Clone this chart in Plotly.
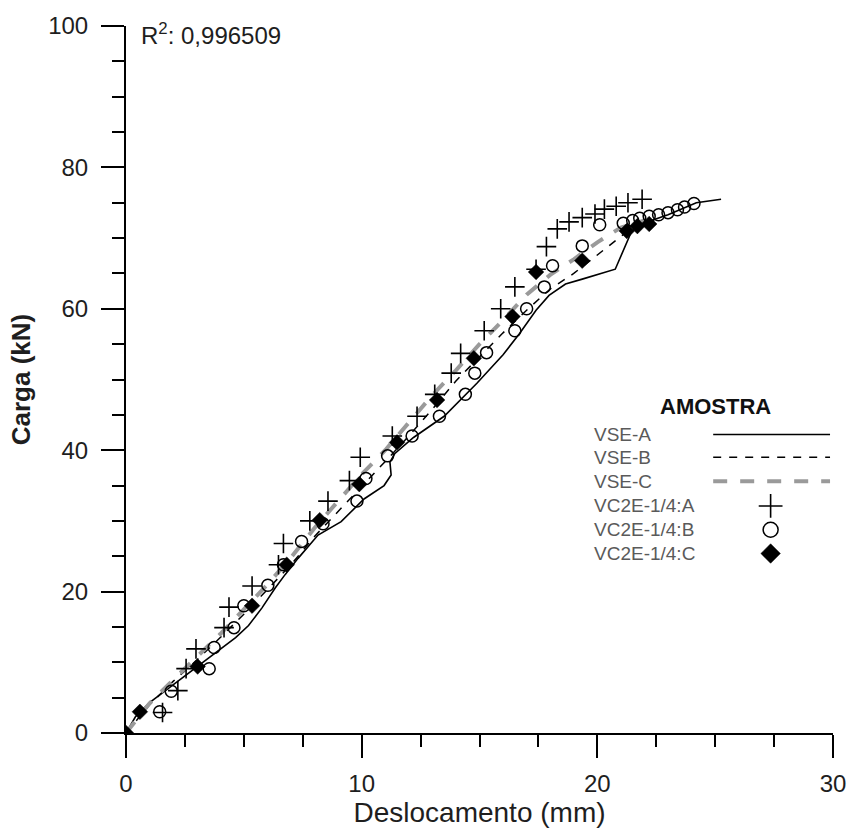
import plotly.graph_objects as go

# ---------------- data ----------------
vse_a_x = [0, 0.4, 1.0, 2.0, 3.0, 4.0, 4.65, 5.2, 5.77, 6.33, 6.75, 7.3, 8.15, 9.13, 10.1, 10.95,
           11.25, 11.2, 11.4, 12.2, 13.5, 14.9, 16.0, 16.7, 17.4, 17.95, 18.65, 19.36, 20.76,
           21.46, 22.2, 23.0, 24.2, 25.25]
vse_a_y = [0, 2.3, 4.3, 6.8, 9.3, 11.8, 13.5, 15.2, 17.7, 20.5, 22.4, 24.7, 28.0, 29.9, 33.1, 35.0,
           36.5, 38.3, 39.5, 41.8, 44.8, 49.5, 53.5, 56.5, 59.8, 61.9, 63.5, 64.2, 65.6,
           71.0, 72.4, 73.3, 75.0, 75.5]

vse_b_x = [0, 1, 2, 3, 4, 5, 6, 7, 8, 9, 10, 11, 12, 13, 14, 15, 16, 17, 18, 19, 20, 21, 21.6, 22.0]
vse_b_y = [0, 4.0, 7.3, 10.3, 13.5, 16.8, 20.3, 23.8, 27.8, 31.3, 34.8, 38.4, 42.0, 45.8, 49.8,
           53.2, 56.6, 59.8, 62.8, 65.0, 67.6, 70.3, 71.8, 72.3]

vse_c_x = [0, 1, 2, 3, 4, 5, 6, 7, 8, 9, 10, 11, 12, 13, 14, 15, 16, 17, 18, 19, 20, 21, 22]
vse_c_y = [0, 4.2, 7.5, 10.7, 14.0, 17.5, 21.0, 24.8, 29.0, 32.8, 36.6, 40.0, 44.0, 47.8, 51.3,
           55.0, 58.4, 62.0, 64.8, 67.0, 69.4, 71.5, 72.5]

vc_a_x = [1.55, 2.2, 2.55, 2.97, 4.16, 4.37, 5.35, 6.47, 6.68, 7.8, 8.57, 9.48, 9.94, 11.3, 12.35,
          13.1, 13.8, 14.2, 15.2, 15.9, 16.5, 17.4, 17.84, 18.3, 18.8, 19.36, 19.9, 20.3, 20.8,
          21.3, 21.9]
vc_a_y = [2.9, 6.0, 9.1, 11.9, 14.9, 17.8, 20.8, 23.8, 26.8, 30.0, 32.8, 35.7, 39.0, 42.0, 44.8,
          47.9, 50.9, 53.7, 56.9, 60.0, 63.1, 65.6, 68.8, 71.3, 72.3, 72.9, 73.4, 74.1, 74.5,
          75.0, 75.5]

vc_b_x = [1.43, 1.92, 3.53, 3.74, 4.58, 5.0, 6.02, 6.68, 7.45, 8.36, 9.8, 10.18, 11.1, 12.14,
          13.3, 14.4, 14.8, 15.3, 16.5, 17.0, 17.75, 18.1, 19.36, 20.1, 21.1, 21.5, 21.8, 22.2,
          22.6, 23.0, 23.4, 23.7, 24.1]
vc_b_y = [3.0, 5.9, 9.1, 12.1, 14.9, 18.0, 20.9, 23.8, 27.1, 29.6, 32.8, 36.0, 39.2, 42.0,
          44.8, 47.9, 50.9, 53.8, 56.9, 60.0, 63.1, 66.1, 68.9, 71.9, 72.1, 72.5, 72.8, 73.1,
          73.3, 73.6, 74.0, 74.4, 74.9]

vc_c_x = [0, 0.59, 3.04, 5.35, 6.82, 8.22, 9.9, 11.5, 13.2, 14.76, 16.4, 17.4, 19.36, 21.25, 21.7, 22.2]
vc_c_y = [0, 3.0, 9.4, 18.0, 23.8, 30.1, 35.2, 41.1, 47.1, 53.0, 58.9, 65.2, 66.8, 71.0, 71.7, 72.0]

legend_names = ["VSE-A", "VSE-B", "VSE-C", "VC2E-1/4:A", "VC2E-1/4:B", "VC2E-1/4:C"]
legend_title = "AMOSTRA"
r2_text = "R<sup>2</sup>: 0,996509"
x_title = "Deslocamento (mm)"
y_title = "Carga (kN)"

# ---------------- styles ----------------
FONT = "Liberation Sans, Arial, sans-serif"
GRAY = "#9a9a9a"
TXT = "#1e1e1e"
line_styles = [
    dict(color="black", width=1.6, dash="solid"),
    dict(color="black", width=1.5, dash="8px,8px"),
    dict(color=GRAY, width=4, dash="14px,13px"),
]
marker_styles = [
    dict(symbol="cross-thin", size=14, color="black", line=dict(color="black", width=1.6)),
    dict(symbol="circle-open", size=12, color="black", line=dict(color="black", width=1.5)),
    dict(symbol="diamond", size=12, color="black", line=dict(color="black", width=0.5)),
]

fig = go.Figure()
for (xs, ys), st in zip([(vse_a_x, vse_a_y), (vse_b_x, vse_b_y), (vse_c_x, vse_c_y)], line_styles):
    fig.add_trace(go.Scatter(x=xs, y=ys, mode="lines", line=st, showlegend=False,
                             hoverinfo="skip"))
for (xs, ys), st in zip([(vc_a_x, vc_a_y), (vc_b_x, vc_b_y), (vc_c_x, vc_c_y)], marker_styles):
    fig.add_trace(go.Scatter(x=xs, y=ys, mode="markers", marker=st, showlegend=False,
                             hoverinfo="skip"))

# ---------------- custom legend (layout only) ----------------
L, R, T, B = 126, 18, 20, 98
W, H = 858, 831
pw, ph = W - L - R, H - T - B


def px(xp):
    return (xp - L) / pw


def py(yp):
    return (H - B - yp) / ph


rows = [432, 455, 479, 504, 528, 552]
annotations = [
    dict(text="<b>" + legend_title + "</b>", x=px(721), y=py(404), xref="paper", yref="paper",
         xanchor="center", yanchor="middle", showarrow=False,
         font=dict(family=FONT, size=22, color="#111")),
    dict(text=r2_text, x=px(139), y=py(28), xref="paper", yref="paper",
         xanchor="left", yanchor="middle", showarrow=False,
         font=dict(family=FONT, size=24, color=TXT)),
]
for name, ry in zip(legend_names, rows):
    annotations.append(dict(text=name, x=px(597), y=py(ry), xref="paper", yref="paper",
                            xanchor="left", yanchor="middle", showarrow=False,
                            font=dict(family=FONT, size=19, color="#5a5a5a")))

shapes = []
for st, ry in zip(line_styles, rows[:3]):
    shapes.append(dict(type="line", xref="paper", yref="paper", x0=px(719), x1=px(837),
                       y0=py(ry), y1=py(ry), line=st))

for st, ry in zip(marker_styles, rows[3:]):
    fig.add_trace(go.Scatter(x=[px(777)], y=[py(ry)], mode="markers",
                             marker=dict(st, size=st["size"] + 3), xaxis="x2", yaxis="y2",
                             showlegend=False, hoverinfo="skip", cliponaxis=False))

axis_common = dict(
    showline=True, linecolor="black", linewidth=2, mirror=False,
    ticks="outside", ticklen=23, tickwidth=2, tickcolor="black",
    showgrid=False, zeroline=False,
    tickfont=dict(family=FONT, size=24, color=TXT),
)

fig.update_layout(
    width=W, height=H,
    margin=dict(l=L, r=R, t=T, b=B),
    paper_bgcolor="white", plot_bgcolor="white",
    showlegend=False,
    xaxis=dict(axis_common, range=[0, 30], dtick=10, tick0=0,
               minor=dict(dtick=2.5, ticklen=12, tickwidth=2, ticks="outside", tickcolor="black"),
               ticklabelstandoff=5,
               title=dict(text=x_title, standoff=3,
                          font=dict(family=FONT, size=28, color=TXT))),
    yaxis=dict(axis_common, range=[0, 100], dtick=20, tick0=0,
               minor=dict(dtick=5, ticklen=12, tickwidth=2, ticks="outside", tickcolor="black"),
               ticklabelstandoff=8,
               title=dict(text="<b>" + y_title + "</b>", standoff=10,
                          font=dict(family=FONT, size=26, color=TXT))),
    xaxis2=dict(overlaying="x", range=[0, 1], visible=False),
    yaxis2=dict(overlaying="y", range=[0, 1], visible=False),
    annotations=annotations,
    shapes=shapes,
)

fig.write_html("out.html")
